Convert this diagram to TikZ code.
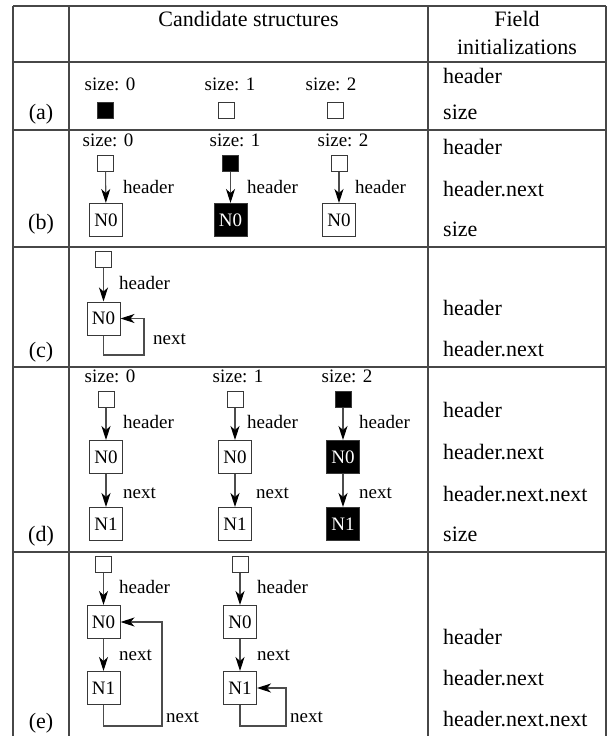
\documentclass[tikz,border=0pt]{standalone}
\usepackage{fontspec}
\setmainfont{Liberation Serif}
\usetikzlibrary{arrows.meta}
\begin{document}
\begin{tikzpicture}[x=1pt,y=-1pt,
  tbl/.style={line width=1.1pt, draw=black!72},
  ttext/.style={font=\fontsize{22}{26}\selectfont, inner sep=0pt},
  dtext/.style={font=\fontsize{19}{22}\selectfont, inner sep=0pt},
  lbl/.style={dtext, anchor=base west},
  sz/.style={dtext, anchor=base},
  fld/.style={ttext, anchor=base west},
  rowlbl/.style={ttext, anchor=base},
  hd/.style={draw=black!78, line width=1pt, minimum size=16pt, inner sep=0pt},
  hdb/.style={hd, fill=black},
  nd/.style={draw=black!78, line width=1pt, minimum size=33pt, inner sep=0pt, dtext},
  ndb/.style={nd, fill=black, text=white},
  arr/.style={draw=black!70, line width=1.1pt, -{Stealth[length=14pt,width=9pt,inset=4pt,black]}}
]
\useasboundingbox (0,0) rectangle (607,736);
% table
\draw[tbl] (13,6) -- (606,6);
\foreach \yy in {62,130,247,367,552} \draw[tbl] (13,\yy) -- (606,\yy);
\foreach \xx in {13,69,428,606} \draw[tbl] (\xx,6) -- (\xx,736);
% header
\node[ttext, anchor=base] (h1) at (248.5,27) {Candidate structures};
\node[ttext, anchor=base] (h2) at (517,27) {Field};
\node[ttext, anchor=base] (h3) at (517,54) {initializations};
% row labels
\node[rowlbl] (ra) at (41,119) {(a)};
\node[rowlbl] (rb) at (41,229) {(b)};
\node[rowlbl] (rc) at (41,357) {(c)};
\node[rowlbl] (rd) at (41,541) {(d)};
\node[rowlbl] (re) at (41,728) {(e)};
% fields
\node[fld] (fa1) at (443,83) {header};
\node[fld] (fa2) at (443,119) {size};
\node[fld] (fb1) at (443,154) {header};
\node[fld] (fb2) at (443,196) {header.next};
\node[fld] (fb3) at (443,236) {size};
\node[fld] (fc1) at (443,315) {header};
\node[fld] (fc2) at (443,356) {header.next};
\node[fld] (fd1) at (443,417) {header};
\node[fld] (fd2) at (443,459) {header.next};
\node[fld] (fd3) at (443,501) {header.next.next};
\node[fld] (fd4) at (443,541) {size};
\node[fld] (fe1) at (443,644) {header};
\node[fld] (fe2) at (443,685) {header.next};
\node[fld] (fe3) at (443,726) {header.next.next};
% row (a)
\node[sz] (as0) at (110,90) {size: 0};
\node[sz] (as1) at (230,90) {size: 1};
\node[sz] (as2) at (331,90) {size: 2};
\node[hdb] (ab0) at (105.5,110.5) {};
\node[hd] (ab1) at (226.5,110.5) {};
\node[hd] (ab2) at (335,110.5) {};
% row (b)
\node[sz] (bs0) at (108,146) {size: 0};
\node[sz] (bs1) at (235,146) {size: 1};
\node[sz] (bs2) at (343,146) {size: 2};
\node[hd] (bb0) at (105.5,163) {};
\node[hdb] (bb1) at (230.5,163) {};
\node[hd] (bb2) at (339,163) {};
\node[nd] (bn0) at (106,220) {N0};
\node[ndb] (bn1) at (230.5,220) {N0};
\node[nd] (bn2) at (339,220) {N0};
\draw[arr] (bb0) -- (bn0);
\draw[arr] (bb1) -- (bn1);
\draw[arr] (bb2) -- (bn2);
\node[lbl] (bh0) at (123,193) {header};
\node[lbl] (bh1) at (247,193) {header};
\node[lbl] (bh2) at (355,193) {header};
% row (c)
\node[hd] (cb) at (103.5,259.5) {};
\node[nd] (cn) at (103.5,318.5) {N0};
\draw[arr] (cb) -- (cn);
\node[lbl] (ch) at (119,289) {header};
\coordinate (cl) at (144,355);
\draw[arr] (cn.south) |- (cl) |- (cn.east);
\node[lbl] (cx) at (153,344) {next};
% row (d)
\node[sz] (ds0) at (110,382) {size: 0};
\node[sz] (ds1) at (238,382) {size: 1};
\node[sz] (ds2) at (347,382) {size: 2};
\node[hd] (db0) at (106,399) {};
\node[hd] (db1) at (235,399) {};
\node[hdb] (db2) at (343,399) {};
\node[nd] (dn0) at (106,457) {N0};
\node[nd] (dn1) at (235,457) {N0};
\node[ndb] (dn2) at (343,457) {N0};
\node[nd] (dm0) at (106,524) {N1};
\node[nd] (dm1) at (235,524) {N1};
\node[ndb] (dm2) at (343,524) {N1};
\draw[arr] (db0) -- (dn0);
\draw[arr] (db1) -- (dn1);
\draw[arr] (db2) -- (dn2);
\draw[arr] (dn0) -- (dm0);
\draw[arr] (dn1) -- (dm1);
\draw[arr] (dn2) -- (dm2);
\node[lbl] (dh0) at (123,428) {header};
\node[lbl] (dh1) at (247,428) {header};
\node[lbl] (dh2) at (359,428) {header};
\node[lbl] (dx0) at (123,498) {next};
\node[lbl] (dx1) at (256,498) {next};
\node[lbl] (dx2) at (359,498) {next};
% row (e)
\node[hd] (eb0) at (103.5,564) {};
\node[hd] (eb1) at (240,564) {};
\node[nd] (en0) at (103.5,622) {N0};
\node[nd] (en1) at (240,622) {N0};
\node[nd] (em0) at (103.5,688) {N1};
\node[nd] (em1) at (240,688) {N1};
\draw[arr] (eb0) -- (en0);
\draw[arr] (eb1) -- (en1);
\draw[arr] (en0) -- (em0);
\draw[arr] (en1) -- (em1);
\node[lbl] (eh0) at (119,593) {header};
\node[lbl] (eh1) at (257,593) {header};
\node[lbl] (ex0) at (119,660) {next};
\node[lbl] (ex1) at (257,660) {next};
\coordinate (el0) at (162,726);
\coordinate (el1) at (286,726);
\draw[arr] (em0.south) |- (el0) |- (en0.east);
\draw[arr] (em1.south) |- (el1) |- (em1.east);
\node[lbl] (ey0) at (166,722) {next};
\node[lbl] (ey1) at (290,722) {next};
\end{tikzpicture}
\end{document}
